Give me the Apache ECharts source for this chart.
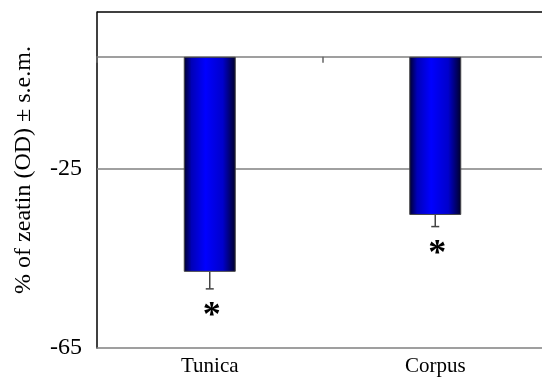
<!DOCTYPE html>
<html>
<head>
<meta charset="utf-8">
<script src="https://cdn.jsdelivr.net/npm/echarts@6/dist/echarts.min.js"></script>
<style>
  html, body { margin: 0; padding: 0; background: #fff; }
  #chart { width: 542px; height: 387px; }
</style>
</head>
<body>
<div id="chart"></div>
<script>
var categories = ['Tunica', 'Corpus'];
var values = [-48, -35.3];
var errors = [3.8, 2.6];
var significance = ['*', '*'];
var yLabelsShown = [-25, -65];
var gridLineValues = [-25];
var yTitle = '% of zeatin (OD) \u00b1 s.e.m.';

var serif = '"Liberation Serif", "Times New Roman", serif';

var chart = echarts.init(document.getElementById('chart'));

var errData = categories.map(function (c, i) {
  return [i, values[i], errors[i], significance[i]];
});

var option = {
  animation: false,
  backgroundColor: '#fff',
  grid: { left: 97, top: 12, width: 451, height: 336, outerBoundsMode: 'none', containLabel: false },
  xAxis: [
    {
      type: 'category',
      data: categories,
      position: 'bottom',
      axisLine: { onZero: false, lineStyle: { color: '#808080', width: 1.5 } },
      axisTick: { show: false },
      axisLabel: { fontFamily: serif, fontSize: 21, color: '#000', margin: 8 },
      splitLine: { show: false }
    },
    {
      type: 'category',
      data: categories,
      position: 'top',
      axisLine: { onZero: true, lineStyle: { color: '#808080', width: 1.5 } },
      axisTick: { show: true, inside: true, length: 6, lineStyle: { color: '#666', width: 1.5 } },
      axisLabel: { show: false },
      splitLine: { show: false }
    }
  ],
  yAxis: {
    type: 'value',
    min: -65,
    max: 10,
    interval: 5,
    name: yTitle,
    nameLocation: 'middle',
    nameRotate: 90,
    nameGap: 61,
    nameTextStyle: { fontFamily: serif, fontSize: 24, color: '#000', padding: [0, 0, 0, 20] },
    axisLine: { show: true, lineStyle: { color: '#000', width: 1.5 } },
    axisTick: { show: false },
    splitLine: { show: false },
    axisLabel: {
      fontFamily: serif, fontSize: 24, color: '#000', margin: 15,
      formatter: function (v) { return yLabelsShown.indexOf(v) >= 0 ? String(v) : ''; }
    }
  },
  series: [
    {
      type: 'line',
      xAxisIndex: 0,
      data: [],
      z: 0,
      markLine: {
        silent: true,
        symbol: 'none',
        label: { show: false },
        lineStyle: { color: '#808080', width: 1.5, type: 'solid' },
        data: gridLineValues.map(function (v) { return { yAxis: v }; }).concat([
          { yAxis: 10, lineStyle: { color: '#000', width: 1.5, type: 'solid' } }
        ])
      }
    },
    {
      type: 'bar',
      xAxisIndex: 0,
      data: values,
      barWidth: 52,
      itemStyle: {
        borderColor: '#444',
        borderWidth: 1,
        color: new echarts.graphic.LinearGradient(0, 0, 1, 0, [
          { offset: 0, color: '#000028' },
          { offset: 0.15, color: '#0000b8' },
          { offset: 0.42, color: '#0000ff' },
          { offset: 0.75, color: '#0000cc' },
          { offset: 1, color: '#000028' }
        ])
      },
      z: 5
    },
    {
      type: 'custom',
      xAxisIndex: 0,
      data: errData,
      z: 6,
      renderItem: function (params, api) {
        var idx = api.value(0);
        var v = api.value(1);
        var e = api.value(2);
        var p0 = api.coord([idx, v]);
        var p1 = api.coord([idx, v - e]);
        var cap = 4;
        return {
          type: 'group',
          children: [
            { type: 'line', shape: { x1: p0[0], y1: p0[1], x2: p1[0], y2: p1[1] },
              style: { stroke: '#444', lineWidth: 1.5 } },
            { type: 'line', shape: { x1: p1[0] - cap, y1: p1[1], x2: p1[0] + cap, y2: p1[1] },
              style: { stroke: '#444', lineWidth: 1.5 } },
            { type: 'text', x: p1[0] + 2, y: p1[1] + 10,
              style: { text: significance[params.dataIndex], fontFamily: serif, fontWeight: 'bold',
                       fontSize: 36, fill: '#000', align: 'center', verticalAlign: 'top' } }
          ]
        };
      }
    }
  ]
};
chart.setOption(option);
</script>
</body>
</html>
